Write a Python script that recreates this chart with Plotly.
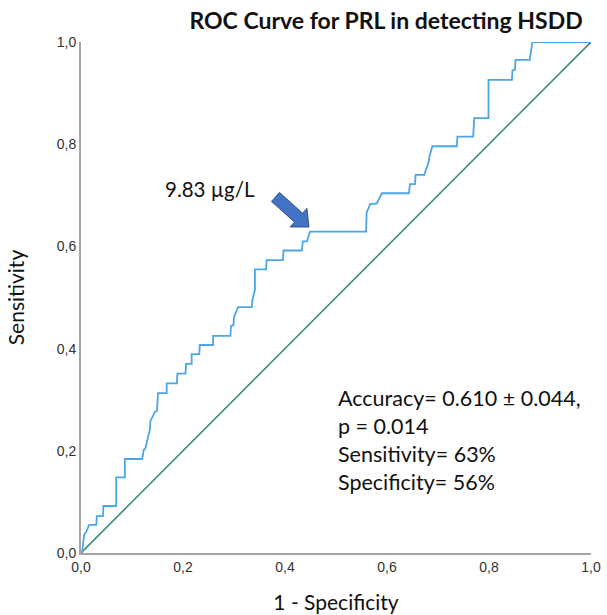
import math
import plotly.graph_objects as go

# ROC curve vertices (1 - specificity, sensitivity)
fpr = [0.000, 0.002, 0.006, 0.010, 0.016, 0.030, 0.031, 0.043, 0.044, 0.069, 0.069,
       0.086, 0.086, 0.120, 0.123, 0.126, 0.130, 0.135, 0.136, 0.145, 0.149, 0.151,
       0.168, 0.168, 0.188, 0.189, 0.205, 0.206, 0.217, 0.217, 0.232, 0.233, 0.259,
       0.259, 0.293, 0.294, 0.299, 0.300, 0.308, 0.335, 0.336, 0.341, 0.341, 0.363,
       0.364, 0.396, 0.397, 0.433, 0.435, 0.443, 0.449, 0.559, 0.560, 0.567, 0.580,
       0.590, 0.643, 0.645, 0.655, 0.656, 0.673, 0.681, 0.684, 0.689, 0.737, 0.738,
       0.769, 0.771, 0.799, 0.799, 0.845, 0.846, 0.851, 0.852, 0.880, 0.882, 0.885,
       1.000]
tpr = [0.000, 0.000, 0.035, 0.041, 0.055, 0.055, 0.072, 0.072, 0.092, 0.092, 0.148,
       0.148, 0.184, 0.184, 0.202, 0.204, 0.221, 0.241, 0.258, 0.276, 0.278, 0.313,
       0.313, 0.332, 0.332, 0.351, 0.351, 0.370, 0.370, 0.389, 0.389, 0.407, 0.407,
       0.425, 0.425, 0.444, 0.446, 0.462, 0.481, 0.481, 0.495, 0.515, 0.555, 0.555,
       0.573, 0.573, 0.592, 0.592, 0.610, 0.610, 0.629, 0.629, 0.666, 0.683, 0.684,
       0.704, 0.704, 0.722, 0.722, 0.740, 0.740, 0.763, 0.779, 0.796, 0.796, 0.815,
       0.815, 0.851, 0.851, 0.926, 0.926, 0.944, 0.946, 0.965, 0.965, 0.982, 1.000,
       1.000]

ref_x = [0.0, 1.0]
ref_y = [0.0, 1.0]

tick_vals = [0.0, 0.2, 0.4, 0.6, 0.8, 1.0]

cutoff_label = "9.83 µg/L"
cutoff_point = (0.445, 0.634)  # 1 - specificity, sensitivity at the cut-off
stats_lines = ["Accuracy= 0.610 ± 0.044,", "p = 0.014", "Sensitivity= 63%", "Specificity= 56%"]

TEXT_FONT = "Lato, 'Liberation Sans', Arial, sans-serif"
TICK_FONT = "'Liberation Sans', Arial, sans-serif"

fig = go.Figure()
fig.add_trace(go.Scatter(x=ref_x, y=ref_y, mode="lines",
                         line=dict(color="#3a8c7e", width=1.6),
                         hoverinfo="skip", cliponaxis=False, showlegend=False))
fig.add_trace(go.Scatter(x=fpr, y=tpr, mode="lines",
                         line=dict(color="#4ba6e6", width=1.8),
                         cliponaxis=False, showlegend=False))

# Block arrow (pixel-sized, anchored at the cut-off point)
theta = math.radians(-42)  # direction pointing down-right (pixel units, y up)
ux, uy = math.cos(theta), math.sin(theta)
nx, ny = -uy, ux
L, head_len, head_hw, shaft_hw = 45, 14, 12.5, 6
tip = (1, 2)
def pt(a, b):
    return (tip[0] + a * ux + b * nx, tip[1] + a * uy + b * ny)
poly = [pt(0, 0), pt(-head_len, head_hw), pt(-head_len, shaft_hw), pt(-L, shaft_hw),
        pt(-L, -shaft_hw), pt(-head_len, -shaft_hw), pt(-head_len, -head_hw)]
path = "M " + " L ".join(f"{px:.2f},{py:.2f}" for px, py in poly) + " Z"
fig.add_shape(type="path", xref="x", yref="y", xsizemode="pixel", ysizemode="pixel",
              xanchor=cutoff_point[0], yanchor=cutoff_point[1], path=path,
              fillcolor="#4472c4", line=dict(color="#2f528f", width=1))

fig.add_annotation(x=0.161, y=0.712, xref="x", yref="y", text=cutoff_label,
                   showarrow=False, xanchor="left", yanchor="middle",
                   font=dict(family=TEXT_FONT, size=20.5, color="#111111"))
fig.add_annotation(x=0.500, y=0.333, xref="x", yref="y", text="<br>".join(stats_lines),
                   showarrow=False, xanchor="left", yanchor="top", align="left",
                   font=dict(family=TEXT_FONT, size=21.5, color="#111111"))

fig.update_layout(
    width=607, height=615,
    margin=dict(l=81, r=16, t=42, b=62),
    paper_bgcolor="white", plot_bgcolor="white",
    separators=",.",
    title=dict(text="<b>ROC Curve for PRL in detecting HSDD</b>", x=0.636, xanchor="center",
               y=0.966, yanchor="middle",
               font=dict(family=TEXT_FONT, size=23, color="#111111")),
    xaxis=dict(range=[0, 1], tickvals=tick_vals, tickformat=".1f", showgrid=False,
               zeroline=False, showline=True, linecolor="#a6a6a6", linewidth=2,
               ticks="", automargin=False,
               tickfont=dict(family=TICK_FONT, size=14, color="#333333"),
               title=dict(text="1 - Specificity", standoff=22,
                          font=dict(family=TEXT_FONT, size=21, color="#111111"))),
    yaxis=dict(range=[0, 1], tickvals=tick_vals, tickformat=".1f", showgrid=False,
               zeroline=False, showline=True, linecolor="#a6a6a6", linewidth=2,
               ticks="", automargin=False,
               tickfont=dict(family=TICK_FONT, size=14, color="#333333"),
               title=dict(text="Sensitivity", standoff=26,
                          font=dict(family=TEXT_FONT, size=21, color="#111111"))),
)

fig.write_html("out.html", config={"displayModeBar": False},
               post_script="document.body.style.margin='0';document.body.style.overflow='hidden';")
